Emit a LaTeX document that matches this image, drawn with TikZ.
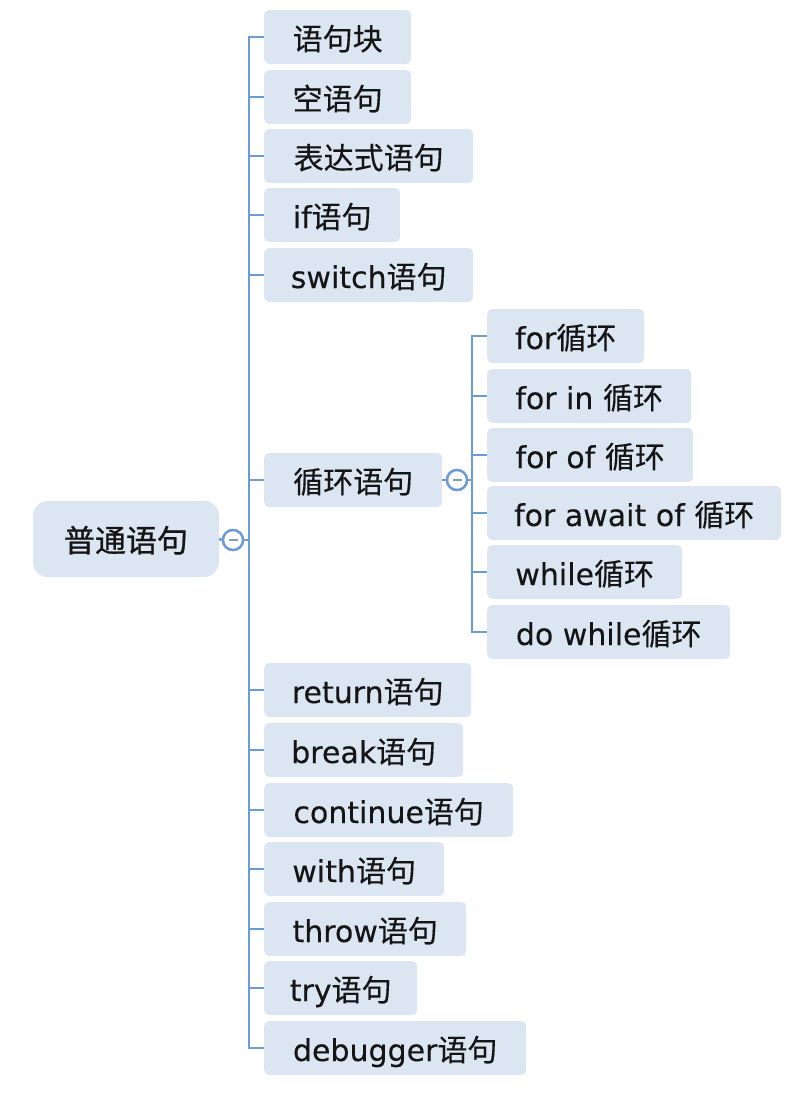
\documentclass[tikz,border=0pt]{standalone}
\usepackage{fontspec}
\setmainfont{DejaVu Sans}[FakeBold=0.25]
\newfontfamily\cjk{Noto Sans CJK SC}[FakeBold=0.3]
\newfontfamily\cjkroot{Noto Sans CJK SC}[FakeBold=0.9]
\definecolor{boxfill}{HTML}{DCE5F2}
\definecolor{linecol}{HTML}{6B9BD8}
\definecolor{minuscol}{HTML}{8A9BB0}
\definecolor{txt}{HTML}{151515}
\tikzset{
  leaf/.style={fill=boxfill, rounded corners=5pt, minimum height=54pt, anchor=west,
    inner sep=0pt, text=txt, font=\fontsize{30pt}{36pt}\selectfont, text height=29pt, text depth=3pt},
  rootbox/.style={fill=boxfill, rounded corners=15pt, minimum width=186pt, minimum height=76pt,
    inner sep=0pt, text=txt, font=\fontsize{31pt}{36pt}\selectfont, text height=29pt, text depth=3pt},
  conn/.style={draw=linecol, line width=2.6pt},
  toggle/.style={circle, draw=linecol, line width=2.4pt, fill=white, minimum size=20pt, inner sep=0pt},
}
\newcommand{\togminus}[1]{\draw[minuscol, line width=2.2pt] ([xshift=-4.5pt]#1.center) -- ([xshift=4.5pt]#1.center);}
\begin{document}
\begin{tikzpicture}[x=1pt, y=-1pt]
\useasboundingbox (0,0) rectangle (800,1104);
% root
\node[rootbox] (root) at (126,539) {{\cjkroot 普通语句}};
\node[toggle] (t1) at (233,540) {};
\coordinate (sp) at (249,540);
% main children
\node[leaf, minimum width=147pt] (n1) at (264,37) {{\cjk 语句块}};
\node[leaf, minimum width=147pt] (n2) at (264,97) {{\cjk 空语句}};
\node[leaf, minimum width=209pt] (n3) at (264,156) {{\cjk 表达式语句}};
\node[leaf, minimum width=136pt] (n4) at (264,215) {if{\cjk 语句}};
\node[leaf, minimum width=209pt] (n5) at (264,275) {switch{\cjk 语句}};
\node[leaf, minimum width=178pt] (n6) at (264,480) {{\cjk 循环语句}};
\node[leaf, minimum width=207pt] (n7) at (264,690) {return{\cjk 语句}};
\node[leaf, minimum width=199pt] (n8) at (264,750) {break{\cjk 语句}};
\node[leaf, minimum width=249pt] (n9) at (264,810) {continue{\cjk 语句}};
\node[leaf, minimum width=180pt] (n10) at (264,869) {with{\cjk 语句}};
\node[leaf, minimum width=202pt] (n11) at (264,929) {throw{\cjk 语句}};
\node[leaf, minimum width=153pt] (n12) at (264,988) {try{\cjk 语句}};
\node[leaf, minimum width=262pt] (n13) at (264,1048) {debugger{\cjk 语句}};
% loop sub
\node[toggle] (t2) at (457,480) {};
\coordinate (sp2) at (472,480);
\node[leaf, minimum width=157pt] (s1) at (487,336) {for{\cjk 循环}};
\node[leaf, minimum width=204pt] (s2) at (487,396) {for in {\cjk 循环}};
\node[leaf, minimum width=206pt] (s3) at (487,455) {for of {\cjk 循环}};
\node[leaf, minimum width=294pt] (s4) at (487,513) {for await of {\cjk 循环}};
\node[leaf, minimum width=195pt] (s5) at (487,572) {while{\cjk 循环}};
\node[leaf, minimum width=243pt] (s6) at (487,632) {do while{\cjk 循环}};
% connectors
\draw[conn] (root.east) -- (t1.west);
\draw[conn] (t1.east) -- (sp);
\draw[conn] (n1.west) -| (sp) |- (n13.west);
\foreach \n in {n2,n3,n4,n5,n6,n7,n8,n9,n10,n11,n12}{
  \draw[conn] (\n.west) -- (\n.west -| sp);
}
\draw[conn] (n6.east) -- (t2.west);
\draw[conn] (t2.east) -- (sp2);
\draw[conn] (s1.west) -| (sp2) |- (s6.west);
\foreach \n in {s2,s3,s4,s5}{
  \draw[conn] (\n.west) -- (\n.west -| sp2);
}
\node[toggle] at (t1) {};
\node[toggle] at (t2) {};
\togminus{t1}
\togminus{t2}
\end{tikzpicture}
\end{document}
